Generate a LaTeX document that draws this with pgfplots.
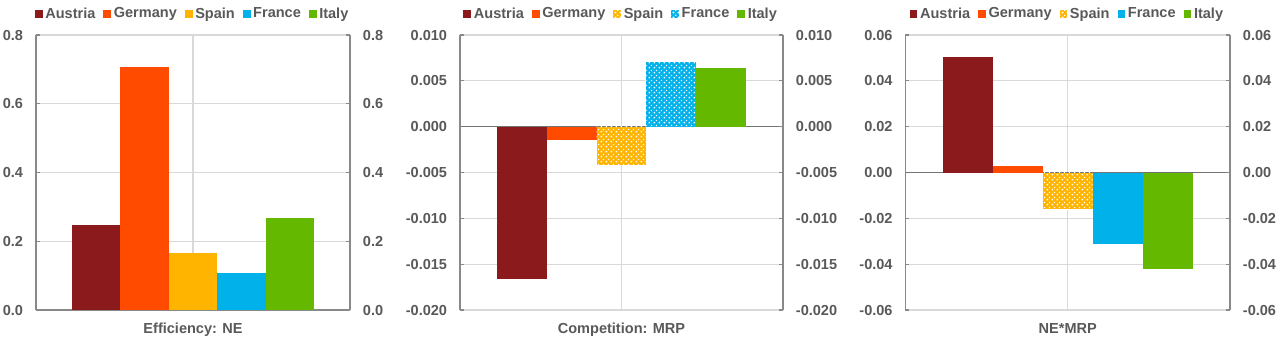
\documentclass[border=0pt]{standalone}
\usepackage{fontspec}
\setmainfont{Liberation Sans}
\usepackage{pgfplots}
\pgfplotsset{compat=1.18}
\usetikzlibrary{patterns}
\pgfdeclarepatternformonly{wsq}{\pgfqpoint{0pt}{0pt}}{\pgfqpoint{3.6pt}{3.6pt}}{\pgfqpoint{3.6pt}{3.6pt}}{%
  \pgfpathrectangle{\pgfqpoint{0.4pt}{0.4pt}}{\pgfqpoint{1.3pt}{1.3pt}}%
  \pgfpathrectangle{\pgfqpoint{2.3pt}{2.3pt}}{\pgfqpoint{0.9pt}{0.9pt}}%
  \pgfusepath{fill}}
\definecolor{cAut}{HTML}{8B1A1C}
\definecolor{cGer}{HTML}{FF4B00}
\definecolor{cSpa}{HTML}{FFB400}
\definecolor{cFra}{HTML}{00B1EA}
\definecolor{cIta}{HTML}{65B800}
\definecolor{txt}{HTML}{595959}
\definecolor{gridc}{HTML}{D9D9D9}
\definecolor{axc}{HTML}{898989}
\pgfplotsset{
  sq legend/.style={legend image code/.code={\fill[##1] (0pt,-2.9pt) rectangle (5.8pt,2.9pt);}},
  mybar/.style={ybar, bar width=0.154, bar shift=0pt, draw=none, sq legend},
  hatched/.style={postaction={pattern=wsq, pattern color=white}},
  base/.style={
    scale only axis, height=206.25pt, xmin=-0.5, xmax=0.5, clip=false,
    scaled y ticks=false,
    font=\fontsize{10.9}{13}\selectfont\bfseries\color{txt},
    ticklabel style={font=\fontsize{10.9}{13}\selectfont\bfseries\color{txt}},
    /pgf/number format/.cd, fixed, fixed zerofill, assume math mode=true, 1000 sep={}, /pgfplots/.cd,
    tick align=inside, major tick length=3pt,
    tick style={axc, line width=0.8pt},
    axis line style={axc, line width=0.8pt},
    grid style={gridc, line width=0.8pt},
  },
  leftax/.style={base,
    axis y line*=left, axis x line*=middle,
    x axis line style={black!55, line width=1pt},
    xtick={0}, xticklabels={}, xmajorgrids, ymajorgrids,
    x tick style={draw=none},
    yticklabel style={inner sep=0pt, xshift=-9.5pt},
    legend style={at={(0.5,1)}, anchor=south, draw=none, fill=none, yshift=7pt,
      legend columns=5, /tikz/every even column/.append style={column sep=4pt},
      font=\fontsize{10.9}{13}\selectfont\bfseries\color{txt}},
    legend cell align=left,
  },
  rightax/.style={base,
    axis y line*=right, axis x line=none,
    yticklabel style={inner sep=0pt, xshift=9.5pt},
  },
}
\begin{document}
\begin{tikzpicture}
\path[use as bounding box] (0,0) rectangle (960pt,255pt);
% ---------- Panel 1
\begin{axis}[leftax, at={(27pt,22.5pt)}, anchor=south west, width=235.5pt,
  ymin=0, ymax=0.8, ytick={0,0.2,0.4,0.6,0.8},
  /pgf/number format/precision=1,
  x axis line style={axc, line width=0.8pt},
  extra x ticks={-0.5,0.5}, extra x tick labels={},
  extra x tick style={grid=none, tick align=outside, tick style={draw=axc}},
]
\addplot[mybar, fill=cAut] coordinates {(-0.308,0.248)};
\addplot[mybar, fill=cGer] coordinates {(-0.154,0.708)};
\addplot[mybar, fill=cSpa] coordinates {(0,0.166)};
\addplot[mybar, fill=cFra] coordinates {(0.154,0.108)};
\addplot[mybar, fill=cIta] coordinates {(0.308,0.268)};
\legend{Austria,Germany,Spain,France,Italy}
\node[anchor=base, yshift=-17.3pt] at (rel axis cs:0.5,0) {Efficiency: NE};
\end{axis}
\begin{axis}[rightax, at={(27pt,22.5pt)}, anchor=south west, width=235.5pt,
  ymin=0, ymax=0.8, ytick={0,0.2,0.4,0.6,0.8},
  /pgf/number format/precision=1]
\addplot[draw=none] coordinates {(0,0)};
\end{axis}
% ---------- Panel 2
\begin{axis}[leftax, at={(345pt,22.5pt)}, anchor=south west, width=242.25pt,
  ymin=-0.02, ymax=0.01, ytick={-0.02,-0.015,-0.01,-0.005,0,0.005,0.01},
  /pgf/number format/precision=3,
]
\addplot[mybar, fill=cAut] coordinates {(-0.308,-0.0166)};
\addplot[mybar, fill=cGer] coordinates {(-0.154,-0.0015)};
\addplot[mybar, fill=cSpa, hatched] coordinates {(0,-0.0042)};
\addplot[mybar, fill=cFra, hatched] coordinates {(0.154,0.0071)};
\addplot[mybar, fill=cIta] coordinates {(0.308,0.0064)};
\legend{Austria,Germany,Spain,France,Italy}
\node[anchor=base, yshift=-17.3pt] at (rel axis cs:0.5,0) {Competition: MRP};
\end{axis}
\begin{axis}[rightax, at={(345pt,22.5pt)}, anchor=south west, width=242.25pt,
  ymin=-0.02, ymax=0.01, ytick={-0.02,-0.015,-0.01,-0.005,0,0.005,0.01},
  /pgf/number format/precision=3]
\addplot[draw=none] coordinates {(0,0)};
\end{axis}
% ---------- Panel 3
\begin{axis}[leftax, at={(679.1pt,22.5pt)}, anchor=south west, width=243.4pt,
  ymin=-0.06, ymax=0.06, ytick={-0.06,-0.04,-0.02,0,0.02,0.04,0.06},
  /pgf/number format/precision=2,
]
\addplot[mybar, fill=cAut] coordinates {(-0.308,0.0505)};
\addplot[mybar, fill=cGer] coordinates {(-0.154,0.003)};
\addplot[mybar, fill=cSpa, hatched] coordinates {(0,-0.016)};
\addplot[mybar, fill=cFra] coordinates {(0.154,-0.031)};
\addplot[mybar, fill=cIta] coordinates {(0.308,-0.042)};
\legend{Austria,Germany,Spain,France,Italy}
\node[anchor=base, yshift=-17.3pt] at (rel axis cs:0.5,0) {NE*MRP};
\end{axis}
\begin{axis}[rightax, at={(679.1pt,22.5pt)}, anchor=south west, width=243.4pt,
  ymin=-0.06, ymax=0.06, ytick={-0.06,-0.04,-0.02,0,0.02,0.04,0.06},
  /pgf/number format/precision=2]
\addplot[draw=none] coordinates {(0,0)};
\end{axis}
\end{tikzpicture}
\end{document}
